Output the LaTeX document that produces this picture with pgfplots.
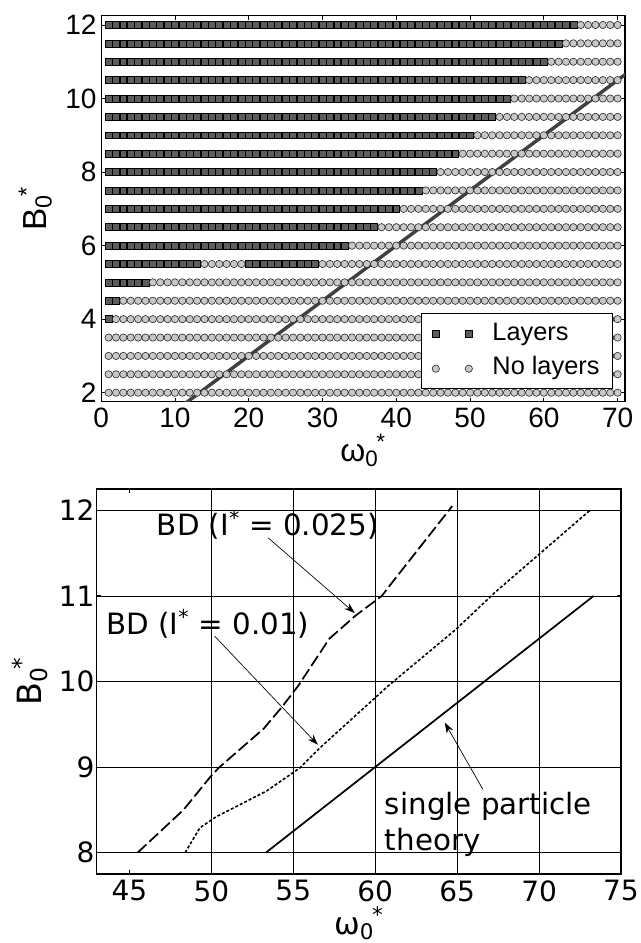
\documentclass[border=0pt]{standalone}
\usepackage{pgfplots}
\pgfplotsset{compat=1.18}
\usepackage{fontspec}
\setmainfont{Liberation Sans}
\newfontfamily\dejavu{DejaVu Sans}
\usetikzlibrary{arrows.meta}
\definecolor{sqfill}{HTML}{5C5C5C}
\definecolor{cifill}{HTML}{C8C8C8}
\definecolor{theo}{HTML}{404040}
\pgfplotsset{twomarks/.style={legend image code/.code={\draw[##1] plot coordinates {(0pt,0pt) (24.75pt,0pt)};}}}
\begin{document}
\begin{tikzpicture}
\path[use as bounding box] (0,0) rectangle (480pt,707.25pt);
% ---------------- top panel ----------------
\begin{axis}[
  at={(75.9pt,405.97pt)}, anchor=south west, scale only axis,
  width=392.85pt, height=289.3pt,
  xmin=0, xmax=71, ymin=1.755, ymax=12.245,
  xtick={0,10,...,70}, ytick={2,4,...,12},
  tick align=inside, major tick length=3pt,
  axis line style={line width=0.8pt},
  tick style={line width=0.7pt, black},
  /pgf/number format/assume math mode=true,
  tick label style={font=\fontsize{21}{25}\selectfont},
  yticklabel style={inner sep=0pt, xshift=-3.4pt},
  xticklabel style={inner sep=0pt, yshift=-4.5pt},
  xlabel={ω\textsubscript{0}\kern-1.5pt\textsuperscript{*}},
  ylabel={B\textsubscript{0}\kern-1.5pt\textsuperscript{*}},
  every axis x label/.style={at={(axis description cs:0.5,-0.126)}, anchor=center, font=\fontsize{24}{28}\selectfont},
  every axis y label/.style={at={(axis description cs:-0.126,0.5)}, rotate=90, anchor=center, font=\fontsize{25}{30}\selectfont},
  legend style={at={(0.9777,0.032)}, anchor=south east, draw=black, line width=0.75pt,
    font=\fontsize{19}{23}\selectfont, inner xsep=8pt, inner ysep=3.75pt,
    nodes={inner sep=2pt, text height=14pt, text depth=4.75pt}, row sep=3.25pt, column sep=13pt},
  legend cell align=left,
]
\addplot[only marks, mark=square*, mark size=2.6pt, mark options={fill=sqfill, draw=black, line width=0.45pt}, twomarks]
coordinates {
(1,12)(2,12)(3,12)(4,12)(5,12)(6,12)(7,12)(8,12)(9,12)(10,12)(11,12)(12,12)(13,12)(14,12)(15,12)(16,12)(17,12)(18,12)(19,12)(20,12)(21,12)(22,12)(23,12)(24,12)(25,12)(26,12)(27,12)(28,12)(29,12)(30,12)(31,12)(32,12)(33,12)(34,12)(35,12)(36,12)(37,12)(38,12)(39,12)(40,12)(41,12)(42,12)(43,12)(44,12)(45,12)(46,12)(47,12)(48,12)(49,12)(50,12)(51,12)(52,12)(53,12)(54,12)(55,12)(56,12)(57,12)(58,12)(59,12)(60,12)(61,12)(62,12)(63,12)(64,12)
(1,11.5)(2,11.5)(3,11.5)(4,11.5)(5,11.5)(6,11.5)(7,11.5)(8,11.5)(9,11.5)(10,11.5)(11,11.5)(12,11.5)(13,11.5)(14,11.5)(15,11.5)(16,11.5)(17,11.5)(18,11.5)(19,11.5)(20,11.5)(21,11.5)(22,11.5)(23,11.5)(24,11.5)(25,11.5)(26,11.5)(27,11.5)(28,11.5)(29,11.5)(30,11.5)(31,11.5)(32,11.5)(33,11.5)(34,11.5)(35,11.5)(36,11.5)(37,11.5)(38,11.5)(39,11.5)(40,11.5)(41,11.5)(42,11.5)(43,11.5)(44,11.5)(45,11.5)(46,11.5)(47,11.5)(48,11.5)(49,11.5)(50,11.5)(51,11.5)(52,11.5)(53,11.5)(54,11.5)(55,11.5)(56,11.5)(57,11.5)(58,11.5)(59,11.5)(60,11.5)(61,11.5)(62,11.5)
(1,11)(2,11)(3,11)(4,11)(5,11)(6,11)(7,11)(8,11)(9,11)(10,11)(11,11)(12,11)(13,11)(14,11)(15,11)(16,11)(17,11)(18,11)(19,11)(20,11)(21,11)(22,11)(23,11)(24,11)(25,11)(26,11)(27,11)(28,11)(29,11)(30,11)(31,11)(32,11)(33,11)(34,11)(35,11)(36,11)(37,11)(38,11)(39,11)(40,11)(41,11)(42,11)(43,11)(44,11)(45,11)(46,11)(47,11)(48,11)(49,11)(50,11)(51,11)(52,11)(53,11)(54,11)(55,11)(56,11)(57,11)(58,11)(59,11)(60,11)
(1,10.5)(2,10.5)(3,10.5)(4,10.5)(5,10.5)(6,10.5)(7,10.5)(8,10.5)(9,10.5)(10,10.5)(11,10.5)(12,10.5)(13,10.5)(14,10.5)(15,10.5)(16,10.5)(17,10.5)(18,10.5)(19,10.5)(20,10.5)(21,10.5)(22,10.5)(23,10.5)(24,10.5)(25,10.5)(26,10.5)(27,10.5)(28,10.5)(29,10.5)(30,10.5)(31,10.5)(32,10.5)(33,10.5)(34,10.5)(35,10.5)(36,10.5)(37,10.5)(38,10.5)(39,10.5)(40,10.5)(41,10.5)(42,10.5)(43,10.5)(44,10.5)(45,10.5)(46,10.5)(47,10.5)(48,10.5)(49,10.5)(50,10.5)(51,10.5)(52,10.5)(53,10.5)(54,10.5)(55,10.5)(56,10.5)(57,10.5)
(1,10)(2,10)(3,10)(4,10)(5,10)(6,10)(7,10)(8,10)(9,10)(10,10)(11,10)(12,10)(13,10)(14,10)(15,10)(16,10)(17,10)(18,10)(19,10)(20,10)(21,10)(22,10)(23,10)(24,10)(25,10)(26,10)(27,10)(28,10)(29,10)(30,10)(31,10)(32,10)(33,10)(34,10)(35,10)(36,10)(37,10)(38,10)(39,10)(40,10)(41,10)(42,10)(43,10)(44,10)(45,10)(46,10)(47,10)(48,10)(49,10)(50,10)(51,10)(52,10)(53,10)(54,10)(55,10)
(1,9.5)(2,9.5)(3,9.5)(4,9.5)(5,9.5)(6,9.5)(7,9.5)(8,9.5)(9,9.5)(10,9.5)(11,9.5)(12,9.5)(13,9.5)(14,9.5)(15,9.5)(16,9.5)(17,9.5)(18,9.5)(19,9.5)(20,9.5)(21,9.5)(22,9.5)(23,9.5)(24,9.5)(25,9.5)(26,9.5)(27,9.5)(28,9.5)(29,9.5)(30,9.5)(31,9.5)(32,9.5)(33,9.5)(34,9.5)(35,9.5)(36,9.5)(37,9.5)(38,9.5)(39,9.5)(40,9.5)(41,9.5)(42,9.5)(43,9.5)(44,9.5)(45,9.5)(46,9.5)(47,9.5)(48,9.5)(49,9.5)(50,9.5)(51,9.5)(52,9.5)(53,9.5)
(1,9)(2,9)(3,9)(4,9)(5,9)(6,9)(7,9)(8,9)(9,9)(10,9)(11,9)(12,9)(13,9)(14,9)(15,9)(16,9)(17,9)(18,9)(19,9)(20,9)(21,9)(22,9)(23,9)(24,9)(25,9)(26,9)(27,9)(28,9)(29,9)(30,9)(31,9)(32,9)(33,9)(34,9)(35,9)(36,9)(37,9)(38,9)(39,9)(40,9)(41,9)(42,9)(43,9)(44,9)(45,9)(46,9)(47,9)(48,9)(49,9)(50,9)
(1,8.5)(2,8.5)(3,8.5)(4,8.5)(5,8.5)(6,8.5)(7,8.5)(8,8.5)(9,8.5)(10,8.5)(11,8.5)(12,8.5)(13,8.5)(14,8.5)(15,8.5)(16,8.5)(17,8.5)(18,8.5)(19,8.5)(20,8.5)(21,8.5)(22,8.5)(23,8.5)(24,8.5)(25,8.5)(26,8.5)(27,8.5)(28,8.5)(29,8.5)(30,8.5)(31,8.5)(32,8.5)(33,8.5)(34,8.5)(35,8.5)(36,8.5)(37,8.5)(38,8.5)(39,8.5)(40,8.5)(41,8.5)(42,8.5)(43,8.5)(44,8.5)(45,8.5)(46,8.5)(47,8.5)(48,8.5)
(1,8)(2,8)(3,8)(4,8)(5,8)(6,8)(7,8)(8,8)(9,8)(10,8)(11,8)(12,8)(13,8)(14,8)(15,8)(16,8)(17,8)(18,8)(19,8)(20,8)(21,8)(22,8)(23,8)(24,8)(25,8)(26,8)(27,8)(28,8)(29,8)(30,8)(31,8)(32,8)(33,8)(34,8)(35,8)(36,8)(37,8)(38,8)(39,8)(40,8)(41,8)(42,8)(43,8)(44,8)(45,8)
(1,7.5)(2,7.5)(3,7.5)(4,7.5)(5,7.5)(6,7.5)(7,7.5)(8,7.5)(9,7.5)(10,7.5)(11,7.5)(12,7.5)(13,7.5)(14,7.5)(15,7.5)(16,7.5)(17,7.5)(18,7.5)(19,7.5)(20,7.5)(21,7.5)(22,7.5)(23,7.5)(24,7.5)(25,7.5)(26,7.5)(27,7.5)(28,7.5)(29,7.5)(30,7.5)(31,7.5)(32,7.5)(33,7.5)(34,7.5)(35,7.5)(36,7.5)(37,7.5)(38,7.5)(39,7.5)(40,7.5)(41,7.5)(42,7.5)(43,7.5)
(1,7)(2,7)(3,7)(4,7)(5,7)(6,7)(7,7)(8,7)(9,7)(10,7)(11,7)(12,7)(13,7)(14,7)(15,7)(16,7)(17,7)(18,7)(19,7)(20,7)(21,7)(22,7)(23,7)(24,7)(25,7)(26,7)(27,7)(28,7)(29,7)(30,7)(31,7)(32,7)(33,7)(34,7)(35,7)(36,7)(37,7)(38,7)(39,7)(40,7)
(1,6.5)(2,6.5)(3,6.5)(4,6.5)(5,6.5)(6,6.5)(7,6.5)(8,6.5)(9,6.5)(10,6.5)(11,6.5)(12,6.5)(13,6.5)(14,6.5)(15,6.5)(16,6.5)(17,6.5)(18,6.5)(19,6.5)(20,6.5)(21,6.5)(22,6.5)(23,6.5)(24,6.5)(25,6.5)(26,6.5)(27,6.5)(28,6.5)(29,6.5)(30,6.5)(31,6.5)(32,6.5)(33,6.5)(34,6.5)(35,6.5)(36,6.5)(37,6.5)
(1,6)(2,6)(3,6)(4,6)(5,6)(6,6)(7,6)(8,6)(9,6)(10,6)(11,6)(12,6)(13,6)(14,6)(15,6)(16,6)(17,6)(18,6)(19,6)(20,6)(21,6)(22,6)(23,6)(24,6)(25,6)(26,6)(27,6)(28,6)(29,6)(30,6)(31,6)(32,6)(33,6)
(1,5.5)(2,5.5)(3,5.5)(4,5.5)(5,5.5)(6,5.5)(7,5.5)(8,5.5)(9,5.5)(10,5.5)(11,5.5)(12,5.5)(13,5.5)(20,5.5)(21,5.5)(22,5.5)(23,5.5)(24,5.5)(25,5.5)(26,5.5)(27,5.5)(28,5.5)(29,5.5)
(1,5)(2,5)(3,5)(4,5)(5,5)(6,5)
(1,4.5)(2,4.5)
(1,4)
};
\addlegendentry{Layers}
\addplot[only marks, mark=*, mark size=2.75pt, mark options={fill=cifill, draw=black!85, line width=0.45pt}, twomarks]
coordinates {
(65,12)(66,12)(67,12)(68,12)(69,12)(70,12)
(63,11.5)(64,11.5)(65,11.5)(66,11.5)(67,11.5)(68,11.5)(69,11.5)(70,11.5)
(61,11)(62,11)(63,11)(64,11)(65,11)(66,11)(67,11)(68,11)(69,11)(70,11)
(58,10.5)(59,10.5)(60,10.5)(61,10.5)(62,10.5)(63,10.5)(64,10.5)(65,10.5)(66,10.5)(67,10.5)(68,10.5)(69,10.5)(70,10.5)
(56,10)(57,10)(58,10)(59,10)(60,10)(61,10)(62,10)(63,10)(64,10)(65,10)(66,10)(67,10)(68,10)(69,10)(70,10)
(54,9.5)(55,9.5)(56,9.5)(57,9.5)(58,9.5)(59,9.5)(60,9.5)(61,9.5)(62,9.5)(63,9.5)(64,9.5)(65,9.5)(66,9.5)(67,9.5)(68,9.5)(69,9.5)(70,9.5)
(51,9)(52,9)(53,9)(54,9)(55,9)(56,9)(57,9)(58,9)(59,9)(60,9)(61,9)(62,9)(63,9)(64,9)(65,9)(66,9)(67,9)(68,9)(69,9)(70,9)
(49,8.5)(50,8.5)(51,8.5)(52,8.5)(53,8.5)(54,8.5)(55,8.5)(56,8.5)(57,8.5)(58,8.5)(59,8.5)(60,8.5)(61,8.5)(62,8.5)(63,8.5)(64,8.5)(65,8.5)(66,8.5)(67,8.5)(68,8.5)(69,8.5)(70,8.5)
(46,8)(47,8)(48,8)(49,8)(50,8)(51,8)(52,8)(53,8)(54,8)(55,8)(56,8)(57,8)(58,8)(59,8)(60,8)(61,8)(62,8)(63,8)(64,8)(65,8)(66,8)(67,8)(68,8)(69,8)(70,8)
(44,7.5)(45,7.5)(46,7.5)(47,7.5)(48,7.5)(49,7.5)(50,7.5)(51,7.5)(52,7.5)(53,7.5)(54,7.5)(55,7.5)(56,7.5)(57,7.5)(58,7.5)(59,7.5)(60,7.5)(61,7.5)(62,7.5)(63,7.5)(64,7.5)(65,7.5)(66,7.5)(67,7.5)(68,7.5)(69,7.5)(70,7.5)
(41,7)(42,7)(43,7)(44,7)(45,7)(46,7)(47,7)(48,7)(49,7)(50,7)(51,7)(52,7)(53,7)(54,7)(55,7)(56,7)(57,7)(58,7)(59,7)(60,7)(61,7)(62,7)(63,7)(64,7)(65,7)(66,7)(67,7)(68,7)(69,7)(70,7)
(38,6.5)(39,6.5)(40,6.5)(41,6.5)(42,6.5)(43,6.5)(44,6.5)(45,6.5)(46,6.5)(47,6.5)(48,6.5)(49,6.5)(50,6.5)(51,6.5)(52,6.5)(53,6.5)(54,6.5)(55,6.5)(56,6.5)(57,6.5)(58,6.5)(59,6.5)(60,6.5)(61,6.5)(62,6.5)(63,6.5)(64,6.5)(65,6.5)(66,6.5)(67,6.5)(68,6.5)(69,6.5)(70,6.5)
(34,6)(35,6)(36,6)(37,6)(38,6)(39,6)(40,6)(41,6)(42,6)(43,6)(44,6)(45,6)(46,6)(47,6)(48,6)(49,6)(50,6)(51,6)(52,6)(53,6)(54,6)(55,6)(56,6)(57,6)(58,6)(59,6)(60,6)(61,6)(62,6)(63,6)(64,6)(65,6)(66,6)(67,6)(68,6)(69,6)(70,6)
(14,5.5)(15,5.5)(16,5.5)(17,5.5)(18,5.5)(19,5.5)(30,5.5)(31,5.5)(32,5.5)(33,5.5)(34,5.5)(35,5.5)(36,5.5)(37,5.5)(38,5.5)(39,5.5)(40,5.5)(41,5.5)(42,5.5)(43,5.5)(44,5.5)(45,5.5)(46,5.5)(47,5.5)(48,5.5)(49,5.5)(50,5.5)(51,5.5)(52,5.5)(53,5.5)(54,5.5)(55,5.5)(56,5.5)(57,5.5)(58,5.5)(59,5.5)(60,5.5)(61,5.5)(62,5.5)(63,5.5)(64,5.5)(65,5.5)(66,5.5)(67,5.5)(68,5.5)(69,5.5)(70,5.5)
(7,5)(8,5)(9,5)(10,5)(11,5)(12,5)(13,5)(14,5)(15,5)(16,5)(17,5)(18,5)(19,5)(20,5)(21,5)(22,5)(23,5)(24,5)(25,5)(26,5)(27,5)(28,5)(29,5)(30,5)(31,5)(32,5)(33,5)(34,5)(35,5)(36,5)(37,5)(38,5)(39,5)(40,5)(41,5)(42,5)(43,5)(44,5)(45,5)(46,5)(47,5)(48,5)(49,5)(50,5)(51,5)(52,5)(53,5)(54,5)(55,5)(56,5)(57,5)(58,5)(59,5)(60,5)(61,5)(62,5)(63,5)(64,5)(65,5)(66,5)(67,5)(68,5)(69,5)(70,5)
(3,4.5)(4,4.5)(5,4.5)(6,4.5)(7,4.5)(8,4.5)(9,4.5)(10,4.5)(11,4.5)(12,4.5)(13,4.5)(14,4.5)(15,4.5)(16,4.5)(17,4.5)(18,4.5)(19,4.5)(20,4.5)(21,4.5)(22,4.5)(23,4.5)(24,4.5)(25,4.5)(26,4.5)(27,4.5)(28,4.5)(29,4.5)(30,4.5)(31,4.5)(32,4.5)(33,4.5)(34,4.5)(35,4.5)(36,4.5)(37,4.5)(38,4.5)(39,4.5)(40,4.5)(41,4.5)(42,4.5)(43,4.5)(44,4.5)(45,4.5)(46,4.5)(47,4.5)(48,4.5)(49,4.5)(50,4.5)(51,4.5)(52,4.5)(53,4.5)(54,4.5)(55,4.5)(56,4.5)(57,4.5)(58,4.5)(59,4.5)(60,4.5)(61,4.5)(62,4.5)(63,4.5)(64,4.5)(65,4.5)(66,4.5)(67,4.5)(68,4.5)(69,4.5)(70,4.5)
(2,4)(3,4)(4,4)(5,4)(6,4)(7,4)(8,4)(9,4)(10,4)(11,4)(12,4)(13,4)(14,4)(15,4)(16,4)(17,4)(18,4)(19,4)(20,4)(21,4)(22,4)(23,4)(24,4)(25,4)(26,4)(27,4)(28,4)(29,4)(30,4)(31,4)(32,4)(33,4)(34,4)(35,4)(36,4)(37,4)(38,4)(39,4)(40,4)(41,4)(42,4)(43,4)(44,4)(45,4)(46,4)(47,4)(48,4)(49,4)(50,4)(51,4)(52,4)(53,4)(54,4)(55,4)(56,4)(57,4)(58,4)(59,4)(60,4)(61,4)(62,4)(63,4)(64,4)(65,4)(66,4)(67,4)(68,4)(69,4)(70,4)
(1,3.5)(2,3.5)(3,3.5)(4,3.5)(5,3.5)(6,3.5)(7,3.5)(8,3.5)(9,3.5)(10,3.5)(11,3.5)(12,3.5)(13,3.5)(14,3.5)(15,3.5)(16,3.5)(17,3.5)(18,3.5)(19,3.5)(20,3.5)(21,3.5)(22,3.5)(23,3.5)(24,3.5)(25,3.5)(26,3.5)(27,3.5)(28,3.5)(29,3.5)(30,3.5)(31,3.5)(32,3.5)(33,3.5)(34,3.5)(35,3.5)(36,3.5)(37,3.5)(38,3.5)(39,3.5)(40,3.5)(41,3.5)(42,3.5)(43,3.5)(44,3.5)(45,3.5)(46,3.5)(47,3.5)(48,3.5)(49,3.5)(50,3.5)(51,3.5)(52,3.5)(53,3.5)(54,3.5)(55,3.5)(56,3.5)(57,3.5)(58,3.5)(59,3.5)(60,3.5)(61,3.5)(62,3.5)(63,3.5)(64,3.5)(65,3.5)(66,3.5)(67,3.5)(68,3.5)(69,3.5)(70,3.5)
(1,3)(2,3)(3,3)(4,3)(5,3)(6,3)(7,3)(8,3)(9,3)(10,3)(11,3)(12,3)(13,3)(14,3)(15,3)(16,3)(17,3)(18,3)(19,3)(20,3)(21,3)(22,3)(23,3)(24,3)(25,3)(26,3)(27,3)(28,3)(29,3)(30,3)(31,3)(32,3)(33,3)(34,3)(35,3)(36,3)(37,3)(38,3)(39,3)(40,3)(41,3)(42,3)(43,3)(44,3)(45,3)(46,3)(47,3)(48,3)(49,3)(50,3)(51,3)(52,3)(53,3)(54,3)(55,3)(56,3)(57,3)(58,3)(59,3)(60,3)(61,3)(62,3)(63,3)(64,3)(65,3)(66,3)(67,3)(68,3)(69,3)(70,3)
(1,2.5)(2,2.5)(3,2.5)(4,2.5)(5,2.5)(6,2.5)(7,2.5)(8,2.5)(9,2.5)(10,2.5)(11,2.5)(12,2.5)(13,2.5)(14,2.5)(15,2.5)(16,2.5)(17,2.5)(18,2.5)(19,2.5)(20,2.5)(21,2.5)(22,2.5)(23,2.5)(24,2.5)(25,2.5)(26,2.5)(27,2.5)(28,2.5)(29,2.5)(30,2.5)(31,2.5)(32,2.5)(33,2.5)(34,2.5)(35,2.5)(36,2.5)(37,2.5)(38,2.5)(39,2.5)(40,2.5)(41,2.5)(42,2.5)(43,2.5)(44,2.5)(45,2.5)(46,2.5)(47,2.5)(48,2.5)(49,2.5)(50,2.5)(51,2.5)(52,2.5)(53,2.5)(54,2.5)(55,2.5)(56,2.5)(57,2.5)(58,2.5)(59,2.5)(60,2.5)(61,2.5)(62,2.5)(63,2.5)(64,2.5)(65,2.5)(66,2.5)(67,2.5)(68,2.5)(69,2.5)(70,2.5)
(1,2)(2,2)(3,2)(4,2)(5,2)(6,2)(7,2)(8,2)(9,2)(10,2)(11,2)(12,2)(13,2)(14,2)(15,2)(16,2)(17,2)(18,2)(19,2)(20,2)(21,2)(22,2)(23,2)(24,2)(25,2)(26,2)(27,2)(28,2)(29,2)(30,2)(31,2)(32,2)(33,2)(34,2)(35,2)(36,2)(37,2)(38,2)(39,2)(40,2)(41,2)(42,2)(43,2)(44,2)(45,2)(46,2)(47,2)(48,2)(49,2)(50,2)(51,2)(52,2)(53,2)(54,2)(55,2)(56,2)(57,2)(58,2)(59,2)(60,2)(61,2)(62,2)(63,2)(64,2)(65,2)(66,2)(67,2)(68,2)(69,2)(70,2)
};
\addlegendentry{No layers}
\addplot[theo, line width=2.6pt, forget plot] coordinates {(10,1.5) (75,11.25)};
\end{axis}
% ---------------- bottom panel ----------------
\begin{axis}[
  at={(72.5pt,51.75pt)}, anchor=south west, scale only axis,
  width=393.25pt, height=288.75pt,
  xmin=43, xmax=75, ymin=7.75, ymax=12.25,
  xtick={45,50,...,75}, ytick={8,...,12},
  minor xtick={50,55,60,65,70}, xminorgrids=true, ymajorgrids=true,
  minor grid style={black, line width=0.55pt},
  major grid style={black, line width=0.55pt},
  tick align=inside, major tick length=3pt, minor tick length=0pt,
  axis line style={line width=1pt},
  tick style={line width=0.7pt, black},
  font=\dejavu,
  /pgf/number format/assume math mode=true,
  tick label style={font=\dejavu\fontsize{21}{25}\selectfont},
  yticklabel style={inner sep=0pt, xshift=-1.5pt},
  xticklabel style={inner sep=0pt, yshift=-4.5pt},
  xlabel={ω\textsubscript{0}\kern-1.5pt\textsuperscript{*}},
  ylabel={B\textsubscript{0}\kern-1.5pt\textsuperscript{*}},
  every axis x label/.style={at={(axis description cs:0.5,-0.127)}, anchor=center, font=\dejavu\fontsize{23}{27}\selectfont},
  every axis y label/.style={at={(axis description cs:-0.127,0.5)}, rotate=90, anchor=center, font=\dejavu\fontsize{25}{30}\selectfont},
]
\addplot[black, line width=1.3pt, dash pattern=on 9pt off 3pt] coordinates {
(45.5,8)(48.3,8.5)(50,8.9)(50.5,9.0)(53.2,9.45)(54.3,9.7)(55.3,9.95)(57.2,10.5)(58.8,10.77)(60.4,11.0)(60.8,11.1)(64.7,12.05)};
\addplot[black, line width=1.2pt, dash pattern=on 2.25pt off 1.5pt] coordinates {
(48.4,8)(49.3,8.29)(50.3,8.42)(51.33,8.52)(53.37,8.72)(55.4,8.99)(56.6,9.22)(60.8,9.95)(64.93,10.61)(67.3,11.04)(73.1,12.0)};
\addplot[black, line width=1.3pt] coordinates {(53.33,8) (73.33,11)};
\node[anchor=base west, inner sep=0pt, font=\dejavu\fontsize{22}{26}\selectfont] at (axis cs:46.66,11.71) {BD (I\textsuperscript{*} = 0.025)};
\node[anchor=base west, inner sep=0pt, font=\dejavu\fontsize{22}{26}\selectfont] at (axis cs:43.57,10.545) {BD (I\textsuperscript{*} = 0.01)};
\node[anchor=base west, inner sep=0pt, font=\dejavu\fontsize{22}{26}\selectfont] at (axis cs:60.58,8.445) {single particle};
\node[anchor=base west, inner sep=0pt, font=\dejavu\fontsize{22}{26}\selectfont] at (axis cs:60.58,8.02) {theory};
\draw[-{Stealth[length=8pt,width=5.5pt]}, line width=0.5pt] (axis cs:53.46,11.68) -- (axis cs:58.75,10.80);
\draw[-{Stealth[length=8pt,width=5.5pt]}, line width=0.5pt] (axis cs:50.2,10.53) -- (axis cs:56.5,9.26);
\draw[-{Stealth[length=8pt,width=5.5pt]}, line width=0.5pt] (axis cs:66.57,8.74) -- (axis cs:64.24,9.52);
\end{axis}
\end{tikzpicture}
\end{document}
